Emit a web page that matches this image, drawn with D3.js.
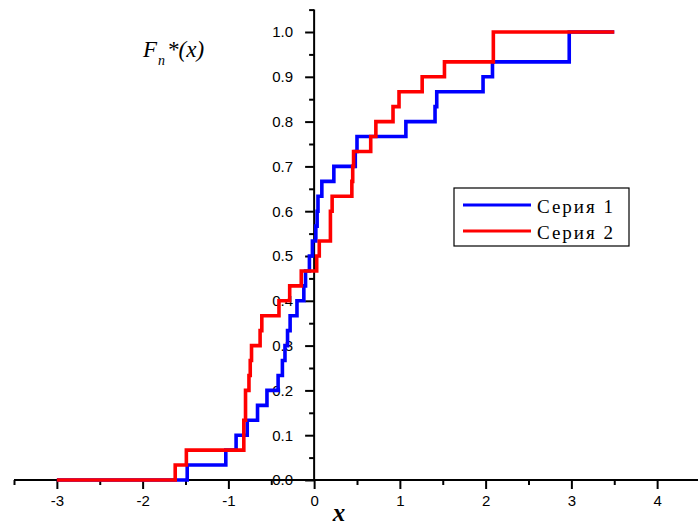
<!DOCTYPE html>
<html>
    <head>
    <title>Empirical distribution functions</title>
        <script src = "https://d3js.org/d3.v7.min.js"></script>
        <style type="text/css">
                body { margin:0; background:white; }
                #chart { position:absolute; top:0px; left:0px; }
                .tick text { font-family: "Liberation Sans", Arial, sans-serif; font-size:15px; fill:black; }
        </style>
    </head>

    <body>

    <div id = "chart"></div>

    <script type="text/javascript">

    // sorted sample values, each step is 1/30
    var serie1 = [-1.48, -1.03, -0.91, -0.78, -0.66, -0.55, -0.42, -0.37, -0.34, -0.31,
                  -0.28, -0.20, -0.12, -0.10, -0.055, -0.02, 0.02, 0.035, 0.045, 0.09,
                  0.23, 0.48, 0.50, 1.07, 1.41, 1.43, 1.97, 2.08, 2.975, 2.975];

    var serie2 = [-1.62, -1.49, -0.82, -0.82, -0.80, -0.80, -0.76, -0.745, -0.73, -0.63,
                  -0.61, -0.41, -0.285, -0.15, 0.03, 0.06, 0.19, 0.19, 0.21, 0.44,
                  0.45, 0.46, 0.66, 0.72, 0.92, 0.99, 1.26, 1.52, 2.09, 2.09];

    var xStart = -3, xEnd = 3.5;

    var xTicks = [-3, -2, -1, 0, 1, 2, 3, 4];
    var xMinor = [-3.5, -2.5, -1.5, -0.5, 0.5, 1.5, 2.5, 3.5, 4.5];
    var yTicks = [0, 0.1, 0.2, 0.3, 0.4, 0.5, 0.6, 0.7, 0.8, 0.9, 1.0];
    var yMinor = [0.05, 0.15, 0.25, 0.35, 0.45, 0.55, 0.65, 0.75, 0.85, 0.95, 1.05];

    var seriesNames = ["Серия 1", "Серия 2"];
    var seriesColors = ["#0000ff", "#ff0000"];

    var width = 698,
        height = 529;

    var svg = d3.select("#chart")
                .append("svg")
                .attr('width', width)
                .attr('height', height);

    var x = d3.scaleLinear().domain([-3.5, 4.5]).range([14, 700]);
    var y = d3.scaleLinear().domain([0, 1.05]).range([480, 9.6]);

    // minor ticks first, then the main axes on top
    svg.append('g')
       .attr('transform', 'translate(0,' + y(0) + ')')
       .call(d3.axisBottom(x).tickValues(xMinor).tickSize(5).tickSizeOuter(0).tickFormat(''))
       .call(function(g){ g.select('.domain').remove(); })
       .selectAll('line').attr('stroke-width', 2);

    svg.append('g')
       .attr('transform', 'translate(' + x(0) + ',0)')
       .call(d3.axisLeft(y).tickValues(yMinor).tickSize(5).tickSizeOuter(0).tickFormat(''))
       .call(function(g){ g.select('.domain').remove(); })
       .selectAll('line').attr('stroke-width', 2);

    var xAxis = svg.append('g')
       .attr('transform', 'translate(0,' + y(0) + ')')
       .call(d3.axisBottom(x).tickValues(xTicks).tickSize(9).tickSizeOuter(0).tickPadding(6)
               .tickFormat(function(d){ return String(d); }));
    xAxis.select('.domain').attr('stroke-width', 2);
    xAxis.selectAll('line').attr('stroke-width', 2);

    var yAxis = svg.append('g')
       .attr('transform', 'translate(' + x(0) + ',0)')
       .call(d3.axisLeft(y).tickValues(yTicks).tickSize(9).tickSizeOuter(0).tickPadding(12)
               .tickFormat(d3.format('.1f')));
    yAxis.select('.domain').attr('stroke-width', 2);
    yAxis.selectAll('line').attr('stroke-width', 2);
    // the axis reaches the top minor tick
    yAxis.select('.domain').attr('d', 'M0,' + y(0) + 'V' + y(1.05));
    xAxis.select('.domain').attr('d', 'M' + x(-3.5) + ',0H' + x(4.5));

    // step lines
    function stepPoints(values){
        var pts = [[xStart, 0]];
        values.forEach(function(v, i){ pts.push([v, (i + 1) / values.length]); });
        pts.push([xEnd, 1]);
        return pts;
    }

    var line = d3.line()
                 .x(function(d){ return x(d[0]); })
                 .y(function(d){ return y(d[1]); })
                 .curve(d3.curveStepAfter);

    svg.selectAll('path.serie')
       .data([serie1, serie2])
       .enter()
       .append('path')
       .attr('class', 'serie')
       .attr('fill', 'none')
       .attr('stroke', function(d, i){ return seriesColors[i]; })
       .attr('stroke-width', 3.6)
       .attr('d', function(d){ return line(stepPoints(d)); });

    // axis titles
    var fLabel = svg.append('text')
       .attr('x', 143).attr('y', 57)
       .attr('font-family', '"Liberation Serif", "Times New Roman", serif')
       .attr('font-style', 'italic')
       .attr('font-size', 23);
    fLabel.append('tspan').text('F');
    fLabel.append('tspan').attr('font-size', 14).attr('dy', 8).attr('dx', 1).text('n');
    fLabel.append('tspan').attr('dy', -8).attr('dx', 2).text('*(x)');

    svg.append('text')
       .attr('x', 339).attr('y', 521)
       .attr('text-anchor', 'middle')
       .attr('font-family', '"Liberation Serif", "Times New Roman", serif')
       .attr('font-style', 'italic')
       .attr('font-weight', 'bold')
       .attr('font-size', 25)
       .text('x');

    // legend
    var legend = svg.append('g');
    legend.append('rect')
          .attr('x', 454).attr('y', 188)
          .attr('width', 175).attr('height', 58)
          .attr('fill', 'white')
          .attr('stroke', 'black')
          .attr('stroke-width', 1.2);

    var items = legend.selectAll('g.item')
          .data(seriesNames)
          .enter()
          .append('g')
          .attr('class', 'item')
          .attr('transform', function(d, i){ return 'translate(0,' + (205 + i * 26) + ')'; });

    items.append('line')
         .attr('x1', 463).attr('x2', 531)
         .attr('stroke', function(d, i){ return seriesColors[i]; })
         .attr('stroke-width', 3.2);

    items.append('text')
         .attr('x', 537).attr('y', 7.5)
         .attr('font-family', '"Liberation Serif", "Times New Roman", serif')
         .attr('font-size', 19)
         .attr('letter-spacing', 2)
         .text(function(d){ return d; });

    </script>

    </body>

</html>
